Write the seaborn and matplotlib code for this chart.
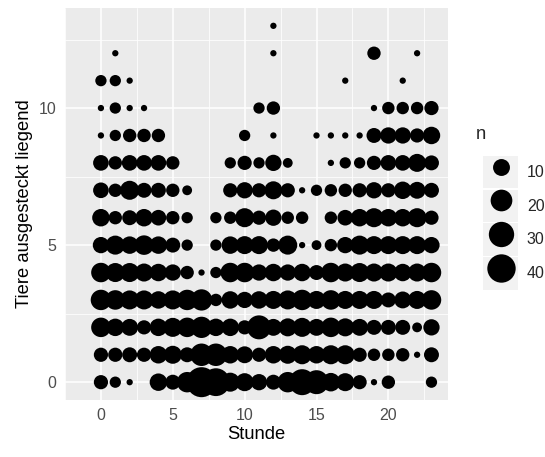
import matplotlib
matplotlib.use('Agg')
import matplotlib.pyplot as plt
from matplotlib.lines import Line2D
from matplotlib.patches import Rectangle
from matplotlib.legend_handler import HandlerTuple
import seaborn as sns
import numpy as np
import pandas as pd

# counts per hour (0..23) for each number of animals lying
hours = list(range(24))
tiere_0 = [6, 3, 1, 0, 11, 7, 17, 46, 38, 14, 12, 9, 7, 17, 32, 26, 13, 12, 6, 1, 5, 0, 0, 3]
tiere_1 = [6, 6, 7, 6, 11, 12, 7, 22, 22, 11, 10, 6, 11, 12, 14, 11, 14, 14, 6, 4, 4, 5, 1, 7]
tiere_2 = [15, 11, 10, 6, 11, 14, 15, 19, 11, 11, 6, 26, 10, 12, 14, 10, 15, 12, 10, 7, 7, 7, 2, 9]
tiere_3 = [17, 15, 14, 14, 11, 14, 17, 19, 4, 11, 9, 11, 12, 14, 17, 12, 15, 12, 12, 12, 7, 10, 12, 15]
tiere_4 = [15, 14, 14, 12, 11, 9, 5, 1, 3, 15, 15, 9, 11, 9, 11, 7, 15, 12, 14, 12, 12, 11, 12, 15]
tiere_5 = [9, 14, 11, 15, 11, 7, 3, 0, 3, 11, 12, 12, 5, 14, 1, 2, 4, 9, 14, 12, 12, 12, 12, 9]
tiere_6 = [11, 5, 7, 11, 8, 5, 3, 0, 3, 4, 14, 6, 9, 4, 4, 0, 4, 8, 11, 14, 11, 11, 14, 6]
tiere_7 = [8, 5, 14, 7, 7, 5, 2, 0, 0, 6, 9, 6, 12, 6, 1, 3, 4, 5, 6, 9, 6, 11, 10, 7]
tiere_8 = [8, 5, 8, 8, 8, 5, 0, 0, 0, 3, 6, 3, 9, 2, 0, 0, 1, 3, 3, 6, 8, 8, 12, 7]
tiere_9 = [1, 3, 5, 5, 5, 0, 0, 0, 0, 0, 3, 0, 1, 0, 0, 1, 1, 1, 1, 7, 9, 9, 6, 11]
tiere_10 = [1, 3, 1, 1, 0, 0, 0, 0, 0, 0, 0, 3, 5, 0, 0, 0, 0, 0, 0, 1, 4, 4, 4, 6]
tiere_11 = [3, 3, 1, 0, 0, 0, 0, 0, 0, 0, 0, 0, 0, 0, 0, 0, 0, 1, 0, 0, 0, 1, 0, 0]
tiere_12 = [0, 1, 0, 0, 0, 0, 0, 0, 0, 0, 0, 0, 1, 0, 0, 0, 0, 0, 0, 5, 0, 0, 1, 0]
tiere_13 = [0, 0, 0, 0, 0, 0, 0, 0, 0, 0, 0, 0, 1, 0, 0, 0, 0, 0, 0, 0, 0, 0, 0, 0]
legend_breaks = [10, 20, 30, 40]

rows = [tiere_0, tiere_1, tiere_2, tiere_3, tiere_4, tiere_5, tiere_6,
        tiere_7, tiere_8, tiere_9, tiere_10, tiere_11, tiere_12, tiere_13]
recs = []
for y, vals in enumerate(rows):
    for h, n in zip(hours, vals):
        if n > 0:
            recs.append((h, y, n))
df = pd.DataFrame(recs, columns=['Stunde', 'Tiere', 'n'])

nmin, nmax = df['n'].min(), df['n'].max()

def diam_pt(n):
    # ggplot-like area scale: diameter grows with sqrt of rescaled count
    return 0.72 * (6.3 + 23.7 * np.sqrt((n - nmin) / (nmax - nmin)))

size_map = {n: diam_pt(n) ** 2 for n in sorted(df['n'].unique())}

sns.set_style('darkgrid')
plt.rcParams['font.family'] = ['Liberation Sans', 'DejaVu Sans']

fig = plt.figure(figsize=(5.45, 4.57), dpi=100)
ax = fig.add_axes([65 / 545, 1 - 400 / 457, 383 / 545, 392 / 457])
ax.set_facecolor('#EBEBEB')

sns.scatterplot(data=df, x='Stunde', y='Tiere', size='n', sizes=size_map,
                color='black', linewidth=0, legend=False, ax=ax, zorder=3)

ax.set_xlim(-1.15, 24.15)
ax.set_ylim(-0.65, 13.65)
ax.set_xticks([0, 5, 10, 15, 20])
ax.set_yticks([0, 5, 10])
ax.set_xticks([-2.5, 2.5, 7.5, 12.5, 17.5, 22.5], minor=True)
ax.set_yticks([2.5, 7.5, 12.5], minor=True)
ax.grid(which='major', color='white', linewidth=1.1)
ax.grid(which='minor', color='white', linewidth=0.55)
ax.set_axisbelow(True)
for s in ax.spines.values():
    s.set_visible(False)
ax.tick_params(which='major', length=3.5, width=0.8, color='#333333',
               labelsize=11.5, labelcolor='#4D4D4D', pad=2.5)
ax.tick_params(which='minor', length=0)
ax.set_xlabel('Stunde', fontsize=13.2, color='black', labelpad=2)
ax.set_ylabel('Tiere ausgesteckt liegend', fontsize=13.2, color='black', labelpad=4)

# legend title drawn on its own so the gap to the keys matches
fig.text(476 / 545, 1 - 139 / 457, 'n', fontsize=13.2, ha='left', va='baseline')
handles = [(Rectangle((0, 0), 1, 1, facecolor='#F2F2F2', edgecolor='none'),
            Line2D([], [], marker='o', ls='', color='black', markeredgewidth=0,
                   markersize=diam_pt(b)))
           for b in legend_breaks]
fig.legend(handles, [str(b) for b in legend_breaks],
           handler_map={tuple: HandlerTuple(ndivide=1)},
           loc='upper left', bbox_to_anchor=(483 / 545, 1 - 156 / 457),
           frameon=False, borderpad=0, borderaxespad=0, handlelength=2.2,
           handleheight=2.75, labelspacing=0.08, handletextpad=0.55, fontsize=11.5)

fig.savefig('out.png', dpi=100)
